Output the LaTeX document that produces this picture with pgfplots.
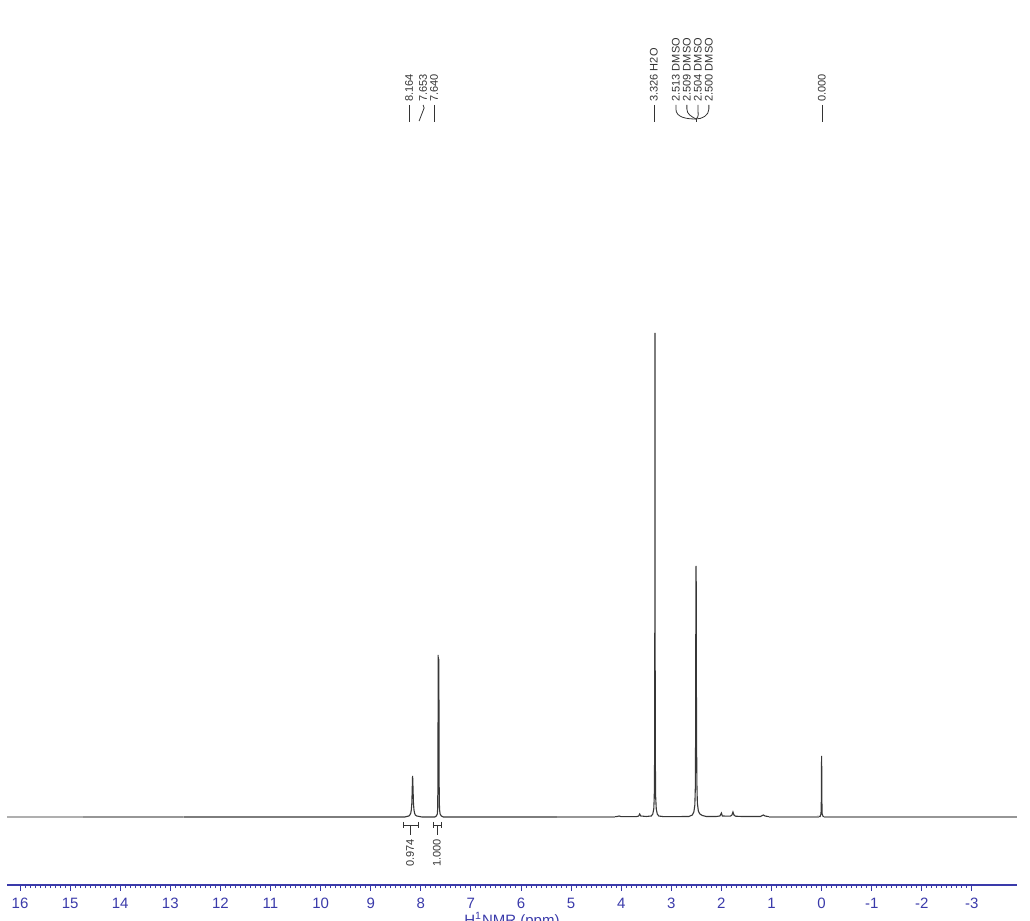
\documentclass[border=0pt]{standalone}
\usepackage{fontspec}
\setmainfont{Liberation Sans}
\usepackage{pgfplots}
\pgfplotsset{compat=1.18}
\definecolor{nmrblue}{RGB}{58,58,170}
\definecolor{specdark}{RGB}{55,55,55}
\definecolor{speclight}{RGB}{175,175,175}
\definecolor{specmid}{RGB}{150,150,150}
\newcommand{\annfont}{\fontsize{5.5}{6.5}\selectfont}
\begin{document}
\begin{tikzpicture}
\begin{axis}[
  at={(0,0)}, anchor=south west,
  scale only axis, width=505pt, height=442.5pt,
  x dir=reverse, xmin=-3.90, xmax=16.26, ymin=-68, ymax=817,
  axis x line*=bottom, axis y line=none,
  x axis line style={draw=nmrblue, line width=0.6pt},
  xtick={-3,-2,...,16}, minor x tick num=9,
  tick align=outside, major tick length=3pt, minor tick length=1.6pt,
  every tick/.style={draw=nmrblue, line width=0.5pt},
  /pgf/number format/assume math mode=true,
  xticklabel style={font=\fontsize{7.5}{8.5}\selectfont, text=nmrblue},
  xlabel={H\textsuperscript{1}NMR (ppm)},
  xlabel style={font=\fontsize{7.5}{8.5}\selectfont, text=nmrblue, at={(axis description cs:0.5,0)}, anchor=north, inner sep=0pt, yshift=-13.5pt},
  clip=false,
]
% baseline segments at the left
\addplot[speclight, line width=0.55pt] coordinates {(16.26,0) (14.74,0)};
\addplot[specmid, line width=0.55pt] coordinates {(14.74,0) (12.74,0)};
% main spectrum
\addplot[specdark, line width=0.55pt] coordinates {
(12.74,0) (8.32,0) (8.28,0.5) (8.24,1) (8.22,2) (8.20,4) (8.19,7) (8.18,13) (8.172,26) (8.167,37) (8.164,41)
(8.160,37) (8.154,26) (8.146,13) (8.136,7) (8.125,4) (8.11,2) (8.08,1) (8.03,0.5) (7.98,0)
(7.72,0) (7.69,1) (7.67,3) (7.662,10) (7.657,60) (7.654,150) (7.653,162) (7.650,120) (7.647,110)
(7.642,150) (7.640,158) (7.637,100) (7.633,30) (7.627,8) (7.615,3) (7.59,1) (7.55,0)
(5.28,0) (4.10,0.3) (4.04,1) (4.00,0.3) (3.70,0.3) (3.65,1) (3.63,3) (3.61,1) (3.50,0.5)
(3.40,1) (3.37,3) (3.35,8) (3.34,20) (3.333,60) (3.329,200) (3.326,484) (3.323,200) (3.319,60)
(3.312,20) (3.30,8) (3.28,3) (3.25,1) (3.15,0.3)
(2.65,0.5) (2.58,2) (2.55,5) (2.53,12) (2.52,30) (2.515,80) (2.512,160) (2.509,235) (2.506,251)
(2.503,235) (2.500,170) (2.497,90) (2.49,35) (2.48,14) (2.46,6) (2.43,3) (2.38,1.5) (2.30,0.5)
(2.10,0.5) (2.03,1) (2.00,4) (1.98,1) (1.82,0.8) (1.79,2) (1.77,5) (1.75,2) (1.72,0.8) (1.60,0.5)
(1.22,0.5) (1.18,1.5) (1.16,2) (1.13,1) (1.05,0.3) (0.60,0)
(0.03,0.5) (0.012,3) (0.006,15) (0.003,45) (0.000,61) (-0.003,45) (-0.006,15) (-0.012,3) (-0.03,0.5)
(-0.10,0) (-3.90,0)
};
% lighter baseline segments on the right
\addplot[specmid, line width=0.55pt] coordinates {(5.28,0) (4.12,0)};
\addplot[specmid, line width=0.55pt] coordinates {(1.05,0) (0.05,0)};
\addplot[specmid, line width=0.55pt] coordinates {(-0.05,0) (-3.90,0)};

% peak labels
\begin{scope}[every node/.style={rotate=90, anchor=west, inner sep=0pt, font=\annfont, text=black!80}]
\node at (axis cs:8.234,715) {8.164};
\node at (axis cs:7.954,715) {7.653};
\node at (axis cs:7.734,715) {7.640};
\node at (axis cs:3.347,715) {3.326 H2O};
\node at (axis cs:2.908,715) {2.513 DMSO};
\node at (axis cs:2.689,715) {2.509 DMSO};
\node at (axis cs:2.469,715) {2.504 DMSO};
\node at (axis cs:2.250,715) {2.500 DMSO};
\node at (axis cs:-0.006,715) {0.000};
\end{scope}
\begin{scope}[black!80, line width=0.4pt]
\draw (axis cs:8.234,712) -- (axis cs:8.234,695);
\draw (axis cs:7.954,712) -- (axis cs:7.934,709) -- (axis cs:8.034,696);
\draw (axis cs:7.734,712) -- (axis cs:7.734,695);
\draw (axis cs:3.347,712) -- (axis cs:3.347,695);
\draw (axis cs:2.908,712) -- (axis cs:2.908,708) to[out=-90,in=180] (axis cs:2.509,698);
\draw (axis cs:2.689,712) -- (axis cs:2.689,708) to[out=-90,in=150] (axis cs:2.509,698);
\draw (axis cs:2.469,712) -- (axis cs:2.469,708) to[out=-90,in=30] (axis cs:2.509,698);
\draw (axis cs:2.250,712) -- (axis cs:2.250,708) to[out=-90,in=0] (axis cs:2.509,698);
\draw (axis cs:2.509,698) -- (axis cs:2.509,695);
\draw (axis cs:-0.006,712) -- (axis cs:-0.006,695);
% integrals
\draw (axis cs:8.355,-8) -- (axis cs:8.056,-8);
\draw (axis cs:8.355,-5) -- (axis cs:8.355,-11);
\draw (axis cs:8.056,-5) -- (axis cs:8.056,-11);
\draw (axis cs:8.216,-8) -- (axis cs:8.216,-18);
\draw (axis cs:7.758,-8) -- (axis cs:7.598,-8);
\draw (axis cs:7.758,-5) -- (axis cs:7.758,-11);
\draw (axis cs:7.598,-5) -- (axis cs:7.598,-11);
\draw (axis cs:7.678,-8) -- (axis cs:7.678,-18);
\end{scope}
\begin{scope}[every node/.style={rotate=90, anchor=east, inner sep=0pt, font=\annfont, text=black!80}]
\node at (axis cs:8.216,-22) {0.974};
\node at (axis cs:7.678,-22) {1.000};
\end{scope}
\end{axis}
\pgfresetboundingbox
\path[use as bounding box] (-3.5pt,-18pt) rectangle (511.5pt,442.5pt);
\end{tikzpicture}
\end{document}
